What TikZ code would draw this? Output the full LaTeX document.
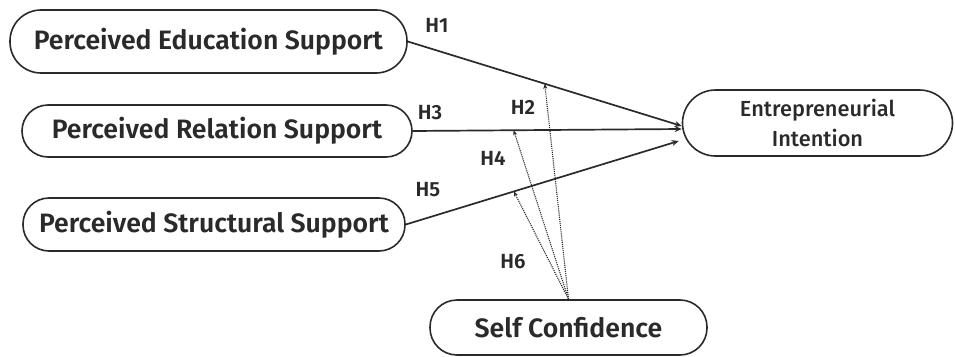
\documentclass[tikz,border=0pt]{standalone}
\usepackage{fontspec}
\setmainfont{Fira Sans}
\newfontfamily\fmed{Fira Sans}[UprightFont={* SemiBold}]
\newfontfamily\fmid{Fira Sans}[UprightFont={* Medium}]
\usetikzlibrary{arrows.meta,calc}
\definecolor{ink}{HTML}{2A2A2A}
\tikzset{
  pill/.style={draw=ink, line width=1.6pt, text=ink, inner sep=0pt, align=center},
  bigtxt/.style={font=\fmed\fontsize{26.6}{30}\selectfont},
  hyp/.style={font=\fmed\fontsize{20.5}{22}\selectfont, text=ink, inner sep=0pt},
  solidarr/.style={draw=ink, line width=1.7pt, -{Stealth[length=7pt,width=6pt]}},
  dotarr/.style={draw=ink, line width=1.1pt, densely dotted, -{Stealth[length=5pt,width=4pt]}}
}
\begin{document}
\begin{tikzpicture}[x=1pt,y=-1pt]
\useasboundingbox (0,0) rectangle (955,356);
\node[pill, bigtxt, minimum width=397pt, minimum height=63pt, rounded corners=31pt] (edu) at (208.5,41.5) {Perceived Education Support};
\node[pill, bigtxt, minimum width=390pt, minimum height=52pt, rounded corners=26pt] (rel) at (217,131) {Perceived Relation Support};
\node[pill, bigtxt, minimum width=382pt, minimum height=53pt, rounded corners=26pt] (str) at (214,224.5) {Perceived Structural Support};
\node[pill, font=\fmid\fontsize{21.8}{30}\selectfont, minimum width=270pt, minimum height=66pt, rounded corners=33pt] (ent) at (817.5,123) {Entrepreneurial\\Intention};
\node[pill, bigtxt, minimum width=277pt, minimum height=55pt, rounded corners=27pt] (sc) at (568.5,327.5) {Self Confidence};

\coordinate (e1) at ([yshift=-3pt]ent.west);
\coordinate (e3) at ([yshift=-6pt]ent.west);
\coordinate (e5) at ([xshift=-3pt,yshift=-18pt]ent.west);

\draw[solidarr] (edu.east) -- (e1);
\draw[solidarr] (rel.east) -- (e3);
\draw[solidarr] (str.east) -- (e5);
\path (edu.east) -- (e1) coordinate[pos=0.5] (m1);
\path (rel.east) -- (e3) coordinate[pos=0.375] (m3);
\path (str.east) -- (e5) coordinate[pos=0.396] (m5);

\draw[dotarr] (sc.north) -- (m1);
\draw[dotarr] (sc.north) -- (m3);
\draw[dotarr] (sc.north) -- (m5);

\node[hyp] (h1) at (437,25) {H1};
\node[hyp] (h2) at (523,107) {H2};
\node[hyp] (h3) at (430,113) {H3};
\node[hyp] (h4) at (493,158) {H4};
\node[hyp] (h5) at (428,190) {H5};
\node[hyp] (h6) at (513,262) {H6};
\end{tikzpicture}
\end{document}
